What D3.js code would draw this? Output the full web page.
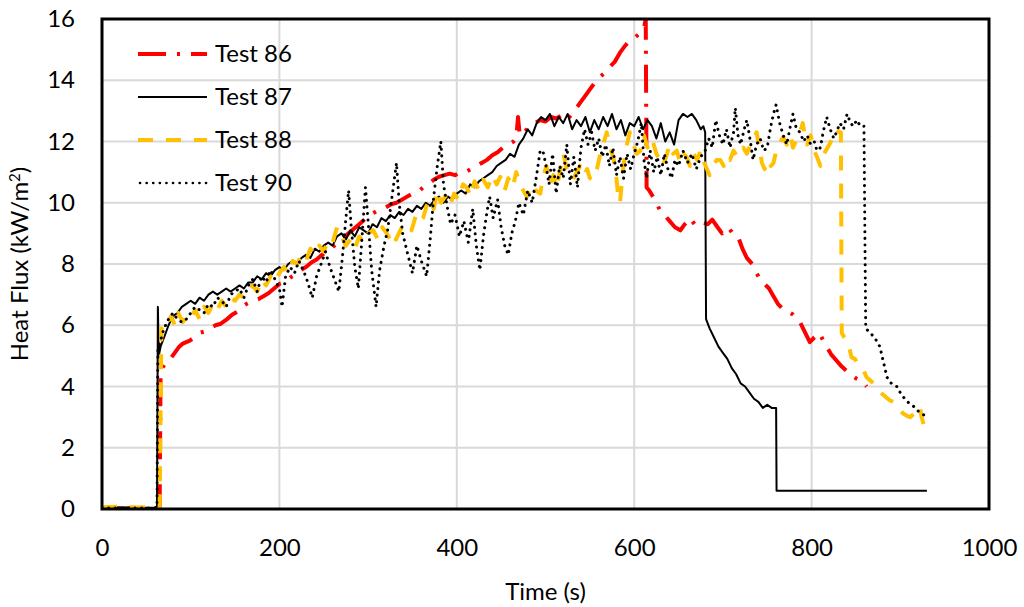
<!DOCTYPE html>
<html>
<head>
<meta charset="utf-8">
<script src="https://cdn.jsdelivr.net/npm/d3@7"></script>
<style>
  body { margin: 0; background: #fff; }
  svg text { font-family: Lato, "Open Sans", sans-serif; fill: #000; }
</style>
</head>
<body>
<svg id="chart" width="1024" height="607"></svg>
<script>
// time (s), heat flux (kW/m2)
var test86 = [[0,0.02],[30,0.02],[60,0.02],[65,0.05],[66,4.3],[68,4.6],[72,4.8],[77,4.9],[82,5.1],[87,5.3],[91,5.4],[95,5.45],[99,5.5],[104,5.6],[110,5.75],[116,5.8],[122,5.9],[128,6.0],[134,6.05],[141,6.2],[147,6.35],[153,6.45],[158,6.6],[163,6.7],[170,6.8],[176,6.85],[182,6.95],[188,7.05],[194,7.2],[200,7.35],[206,7.4],[212,7.55],[218,7.65],[224,7.8],[230,7.9],[236,8.05],[242,8.15],[248,8.3],[254,8.4],[260,8.55],[266,8.7],[272,8.85],[278,9.0],[284,9.15],[290,9.3],[296,9.45],[302,9.6],[308,9.7],[314,9.8],[320,9.85],[326,9.95],[332,10.0],[338,10.1],[344,10.2],[350,10.3],[356,10.35],[362,10.5],[368,10.6],[374,10.75],[380,10.85],[386,10.9],[392,10.95],[398,10.9],[404,11.0],[410,11.0],[416,11.1],[422,11.2],[428,11.3],[434,11.4],[440,11.55],[446,11.65],[452,11.8],[458,11.9],[464,12.0],[467,12.1],[469,12.8],[471,12.2],[476,12.3],[482,12.5],[488,12.6],[494,12.7],[500,12.65],[506,12.8],[512,12.75],[518,12.85],[524,12.7],[530,12.9],[535,13.1],[540,13.3],[545,13.5],[550,13.7],[555,13.9],[561,14.1],[567,14.25],[573,14.45],[578,14.6],[584,14.9],[589,15.1],[595,15.3],[601,15.4],[607,15.55],[611,15.7],[613,16.0],[614,10.5],[617,10.4],[620,10.25],[625,10.0],[629,9.75],[634,9.6],[640,9.4],[646,9.2],[652,9.1],[657,9.3],[663,9.5],[668,9.3],[673,9.4],[678,9.35],[683,9.3],[688,9.45],[694,9.2],[699,9.0],[703,9.1],[706,9.2],[711,9.0],[717,8.9],[722,8.5],[727,8.2],[733,8.0],[738,7.7],[742,7.5],[747,7.35],[752,7.2],[757,6.95],[762,6.7],[767,6.55],[773,6.45],[779,6.35],[783,6.25],[787,6.1],[792,5.8],[798,5.45],[803,5.6],[809,5.75],[813,5.5],[817,5.3],[822,5.05],[828,4.85],[834,4.65],[840,4.5],[846,4.35],[851,4.25],[855,4.2],[859,4.1],[862,4.0]]

var test87 = [[0,0.05],[20,0.05],[40,0.04],[60,0.05],[62,0.1],[63,6.6],[64,5.0],[66,5.3],[70,5.6],[75,6.0],[80,6.3],[85,6.4],[90,6.6],[95,6.7],[100,6.8],[105,6.7],[110,6.9],[115,6.8],[120,7.0],[125,7.1],[130,7.0],[135,7.1],[140,7.2],[145,7.1],[150,7.2],[155,7.3],[160,7.2],[165,7.4],[170,7.4],[175,7.6],[180,7.5],[185,7.7],[190,7.6],[195,7.8],[200,7.9],[205,7.8],[210,8.0],[215,8.1],[220,8.0],[225,8.2],[230,8.3],[235,8.2],[240,8.5],[245,8.4],[250,8.6],[255,8.7],[260,8.6],[265,8.9],[270,9.0],[275,8.8],[280,9.1],[285,8.9],[290,9.2],[295,9.1],[300,9.0],[305,9.3],[310,9.2],[315,9.5],[320,9.4],[325,9.6],[330,9.5],[335,9.7],[340,9.6],[345,9.8],[350,9.7],[355,9.9],[360,9.8],[365,10.0],[370,9.9],[375,10.1],[380,10.2],[385,10.0],[390,10.2],[395,10.1],[400,10.3],[405,10.4],[410,10.3],[415,10.6],[420,10.5],[425,10.7],[430,10.8],[435,10.9],[440,11.0],[445,11.2],[450,11.3],[455,11.4],[460,11.6],[465,11.5],[470,11.9],[475,12.1],[480,12.4],[485,12.2],[490,12.6],[495,12.8],[500,12.7],[505,12.9],[510,12.5],[515,12.8],[520,12.6],[525,12.9],[530,12.4],[535,12.7],[540,12.5],[545,12.8],[550,12.3],[555,12.7],[560,12.4],[565,12.8],[570,12.5],[575,12.9],[580,12.4],[585,12.7],[590,12.2],[595,12.6],[600,12.5],[605,12.8],[610,12.4],[615,12.7],[620,12.5],[625,12.1],[630,12.6],[635,12.0],[640,12.3],[645,11.9],[650,12.7],[655,12.9],[660,12.8],[665,12.9],[670,12.7],[675,12.4],[678,12.5],[680,12.3],[681,6.2],[685,5.9],[690,5.6],[695,5.3],[700,5.1],[705,4.9],[710,4.6],[715,4.4],[720,4.1],[725,4.0],[730,3.8],[735,3.6],[740,3.5],[745,3.3],[750,3.4],[755,3.3],[760,3.3],[760.5,0.6],[930,0.6]]

var test88 = [[0,0.06],[20,0.08],[40,0.05],[60,0.07],[65,0.05],[66,3.0],[67,5.9],[70,5.8],[74,6.1],[78,6.3],[82,6.0],[86,6.4],[91,6.1],[96,6.3],[100,6.2],[105,6.5],[110,6.2],[115,6.6],[120,6.4],[125,6.7],[130,6.5],[135,6.8],[140,6.6],[145,6.9],[150,6.8],[155,7.0],[160,6.9],[165,7.1],[170,7.3],[175,7.1],[180,7.5],[185,7.3],[190,7.6],[195,7.4],[200,7.7],[205,7.9],[210,7.7],[215,8.1],[220,8.0],[225,8.3],[230,8.1],[235,8.5],[240,8.3],[245,8.6],[250,8.4],[255,8.8],[260,8.7],[265,9.2],[270,8.9],[275,8.6],[280,8.8],[285,8.5],[290,8.9],[295,8.7],[300,9.0],[306,9.1],[311,8.8],[316,9.2],[321,9.0],[325,8.8],[328,8.6],[333,8.9],[338,9.2],[344,9.3],[349,9.1],[354,9.6],[358,9.4],[362,9.5],[366,9.9],[370,10.1],[374,9.8],[378,10.4],[382,10.0],[387,10.2],[392,9.9],[397,10.3],[402,10.1],[407,10.6],[411,10.5],[416,10.2],[420,10.7],[425,10.4],[430,10.75],[435,10.5],[440,10.9],[445,10.6],[449,10.85],[454,10.4],[458,10.8],[463,10.5],[467,11.0],[471,10.6],[475,10.4],[479,10.2],[484,10.6],[489,10.4],[494,10.3],[497,10.8],[501,11.2],[505,10.6],[509,10.9],[513,10.5],[516,11.0],[520,11.6],[524,11.1],[528,10.9],[531,10.75],[535,11.0],[539,11.2],[543,10.9],[547,11.1],[550,10.8],[554,10.75],[558,11.1],[561,11.5],[565,11.9],[569,12.3],[573,11.8],[577,11.4],[580,10.8],[582,10.2],[584,10.0],[587,11.0],[591,11.8],[595,12.3],[599,11.9],[603,11.6],[607,11.7],[611,12.2],[615,11.8],[619,12.1],[621,12.0],[625,11.6],[629,11.4],[632,11.2],[636,11.5],[640,11.9],[644,11.6],[648,11.7],[652,11.3],[656,11.6],[659,11.5],[663,11.2],[667,11.6],[671,11.4],[675,11.7],[679,11.3],[682,11.1],[685,10.9],[689,11.2],[693,11.4],[697,11.4],[701,11.2],[704,11.5],[708,11.4],[712,11.7],[716,11.5],[719,11.6],[723,11.8],[727,11.6],[731,11.9],[735,12.1],[738,12.3],[741,11.8],[744,11.3],[747,11.1],[751,11.4],[754,11.2],[757,11.3],[761,11.8],[765,12.0],[768,12.15],[772,11.9],[776,12.2],[779,11.8],[783,12.05],[787,12.3],[790,12.6],[793,12.1],[795,11.9],[799,12.2],[803,11.7],[806,11.5],[810,11.2],[814,11.6],[818,11.8],[821,11.95],[825,12.2],[828,12.4],[831,12.3],[833,12.3],[834,5.75],[837,5.6],[840,5.5],[843,5.2],[845,4.95],[849,4.9],[852,4.7],[855,4.65],[859,4.5],[862,4.3],[866,4.2],[870,4.1],[874,4.0],[878,3.8],[882,3.7],[888,3.55],[892,3.5],[896,3.3],[900,3.2],[904,3.1],[907,3.05],[911,3.0],[915,3.1],[918,3.2],[922,3.35],[924,3.0],[926,2.8],[928,2.6]]

var test90 = [[0,0.03],[30,0.03],[60,0.03],[62,0.1],[63,5.2],[66,5.5],[70,5.9],[75,6.2],[80,6.4],[85,6.2],[90,6.1],[95,6.2],[100,6.4],[105,6.6],[110,6.5],[115,6.4],[120,6.7],[125,6.6],[130,6.9],[135,6.8],[140,6.6],[145,7.0],[150,7.1],[155,7.2],[160,6.9],[165,7.3],[170,7.5],[175,7.1],[180,7.6],[185,7.4],[190,7.8],[195,7.5],[200,7.2],[203,6.6],[207,7.6],[212,7.9],[217,7.7],[222,8.1],[227,7.8],[232,7.4],[237,6.9],[242,7.6],[247,8.0],[252,8.4],[257,7.9],[262,7.5],[267,7.1],[271,8.2],[275,9.5],[278,10.4],[281,9.2],[285,7.9],[289,7.2],[293,8.8],[297,10.5],[300,9.4],[304,7.8],[309,6.6],[313,7.8],[318,8.6],[322,9.1],[327,10.2],[332,11.3],[335,10.0],[339,9.0],[344,8.4],[350,7.7],[355,8.6],[360,8.1],[366,7.6],[370,8.8],[374,10.2],[378,11.2],[382,12.0],[385,10.6],[389,9.9],[393,9.3],[398,9.6],[403,8.9],[408,9.4],[413,8.7],[418,9.8],[422,8.6],[426,7.8],[430,8.9],[434,9.7],[437,10.2],[441,9.5],[446,10.1],[450,9.2],[454,8.6],[458,8.3],[462,9.0],[466,9.4],[470,10.0],[475,9.6],[480,10.4],[485,10.0],[490,10.9],[494,11.7],[497,11.7],[500,11.3],[504,10.6],[508,11.6],[512,10.3],[516,11.2],[520,10.8],[524,11.9],[528,10.6],[532,11.5],[536,10.5],[540,11.8],[544,12.4],[548,11.9],[552,12.3],[556,11.7],[560,12.1],[564,11.5],[568,11.9],[572,11.2],[576,11.8],[580,10.9],[584,11.5],[588,10.8],[592,11.6],[596,11.1],[600,11.6],[604,12.0],[608,12.6],[611,11.4],[614,10.8],[618,11.7],[622,11.0],[626,11.5],[630,10.9],[634,11.6],[638,11.1],[642,10.8],[646,11.4],[650,11.2],[655,11.7],[660,11.3],[665,11.6],[670,11.1],[675,11.5],[680,11.7],[684,12.1],[688,11.8],[692,12.7],[696,12.2],[700,11.9],[704,12.4],[708,11.8],[712,12.3],[714,13.1],[717,12.2],[720,11.9],[724,12.4],[727,12.7],[731,12.0],[734,11.4],[738,11.9],[742,12.1],[746,11.7],[750,11.8],[754,12.5],[757,12.9],[760,13.2],[764,12.6],[768,12.2],[772,11.9],[776,12.5],[779,12.9],[783,12.4],[787,12.3],[791,12.0],[795,12.2],[799,11.9],[803,12.0],[806,11.7],[810,11.8],[813,12.3],[817,12.8],[821,12.4],[825,12.1],[828,12.3],[832,12.6],[836,12.4],[840,12.9],[844,12.6],[847,12.5],[851,12.7],[855,12.5],[859,12.5],[861,5.9],[866,5.75],[871,5.6],[877,5.3],[881,4.8],[885,4.3],[890,4.1],[896,4.0],[900,3.8],[905,3.6],[910,3.45],[915,3.35],[920,3.2],[925,3.1],[930,3.0]]

var xTicks = [0, 200, 400, 600, 800, 1000]
var yTicks = [0, 2, 4, 6, 8, 10, 12, 14, 16]

var series = [
    {name: "Test 86", data: test86, color: "#ff0000", width: 4, dash: "28,11,3,11", cap: "butt"},
    {name: "Test 87", data: test87, color: "#000000", width: 2, dash: null, cap: "butt"},
    {name: "Test 88", data: test88, color: "#ffc000", width: 4, dash: "15,13", cap: "butt"},
    {name: "Test 90", data: test90, color: "#000000", width: 3, dash: "0.1,6.5", cap: "round"}
]

var svg = d3.select("#chart")
var pL = 102, pR = 989, pT = 19, pB = 509

var x = d3.scaleLinear().domain([0, 1000]).range([pL, pR])
var y = d3.scaleLinear().domain([0, 16]).range([pB, pT])

// grid lines
svg.append("g")
    .selectAll("line")
    .data(xTicks.slice(1, -1))
    .enter()
    .append("line")
    .attr("x1", d => x(d)).attr("x2", d => x(d))
    .attr("y1", pT).attr("y2", pB)
    .style("stroke", "#d9d9d9")
    .style("stroke-width", 2)

svg.append("g")
    .selectAll("line")
    .data(yTicks.slice(1, -1))
    .enter()
    .append("line")
    .attr("x1", pL).attr("x2", pR)
    .attr("y1", d => y(d)).attr("y2", d => y(d))
    .style("stroke", "#d9d9d9")
    .style("stroke-width", 2)

// axes (labels only)
var xAxis = svg.append("g")
    .attr("transform", "translate(0," + pB + ")")
    .call(d3.axisBottom(x).tickValues(xTicks).tickFormat(d3.format("d")).tickSize(0).tickPadding(30))
xAxis.select(".domain").remove()
xAxis.selectAll("text").style("font-size", "24px")

var yAxis = svg.append("g")
    .attr("transform", "translate(" + pL + ",0)")
    .call(d3.axisLeft(y).tickValues(yTicks).tickSize(0).tickPadding(27))
yAxis.select(".domain").remove()
yAxis.selectAll("text").style("font-size", "24px")

// series
svg.append("clipPath").attr("id", "plotClip")
    .append("rect")
    .attr("x", pL).attr("y", pT - 1)
    .attr("width", pR - pL).attr("height", pB - pT + 1)

var line = d3.line().x(d => x(d[0])).y(d => y(d[1]))

svg.append("g")
    .attr("clip-path", "url(#plotClip)")
    .selectAll("path")
    .data(series)
    .enter()
    .append("path")
    .attr("d", d => line(d.data))
    .style("fill", "none")
    .style("stroke", d => d.color)
    .style("stroke-width", d => d.width)
    .style("stroke-dasharray", d => d.dash)
    .style("stroke-linecap", d => d.cap)
    .style("stroke-linejoin", "round")

// plot border
svg.append("rect")
    .attr("x", pL).attr("y", pT)
    .attr("width", pR - pL).attr("height", pB - pT)
    .style("fill", "none")
    .style("stroke", "#000")
    .style("stroke-width", 3)

// legend
var legend = svg.append("g")
    .selectAll("g")
    .data(series)
    .enter()
    .append("g")
    .attr("transform", (d, i) => "translate(138," + (54 + i * 43) + ")")

legend.append("line")
    .attr("x1", d => d.cap == "round" ? 2 : 0)
    .attr("x2", 69)
    .style("stroke", d => d.color)
    .style("stroke-width", d => d.cap == "round" ? 2.6 : d.width)
    .style("stroke-dasharray", d => d.dash)
    .style("stroke-linecap", d => d.cap)

legend.append("text")
    .attr("x", 77)
    .attr("dy", "0.35em")
    .text(d => d.name)
    .style("font-size", "24px")

// axis titles
svg.append("text")
    .attr("x", (pL + pR) / 2)
    .attr("y", 600)
    .style("text-anchor", "middle")
    .style("font-size", "24px")
    .text("Time (s)")

var yt = svg.append("text")
    .attr("transform", "translate(28," + ((pT + pB) / 2) + ") rotate(-90)")
    .style("text-anchor", "middle")
    .style("font-size", "24px")
yt.append("tspan").text("Heat Flux (kW/m")
yt.append("tspan").text("2").attr("dy", "-8").style("font-size", "15px")
yt.append("tspan").text(")").attr("dy", "8")
</script>
</body>
</html>
